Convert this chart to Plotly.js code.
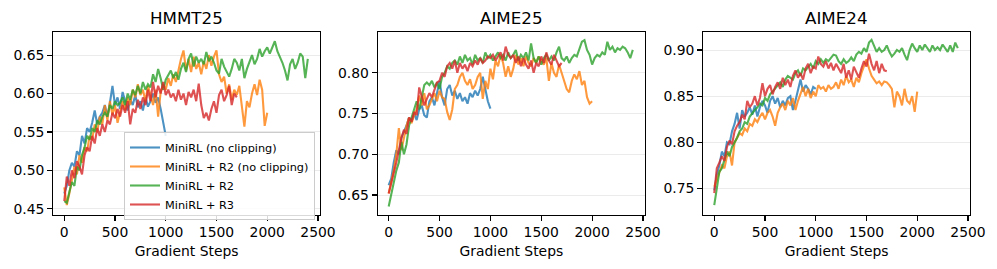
<!DOCTYPE html>
<html>
<head>
<meta charset="utf-8">
<script src="https://cdn.plot.ly/plotly-3.0.1.min.js"></script>
<style>html,body{margin:0;padding:0;background:#fff;}#chart{width:997px;height:269px;}</style>
</head>
<body>
<div id="chart"></div>
<script>
// ---- data ----
const steps = [0,25,50,75,100,125,150,175,200,225,250,275,300,325,350,375,400,425,450,475,500,525,550,575,600,625,650,675,700,725,750,775,800,825,850,875,900,925,950,975,1000,1025,1050,1075,1100,1125,1150,1175,1200,1225,1250,1275,1300,1325,1350,1375,1400,1425,1450,1475,1500,1525,1550,1575,1600,1625,1650,1675,1700,1725,1750,1775,1800,1825,1850,1875,1900,1925,1950,1975,2000,2025,2050,2075,2100,2125,2150,2175,2200,2225,2250,2275,2300,2325,2350,2375,2400];

const seriesNames = ["MiniRL (no clipping)", "MiniRL + R2 (no clipping)", "MiniRL + R2", "MiniRL + R3"];
const benchmarks = ["HMMT25", "AIME25", "AIME24"];
const xTicks = [0, 500, 1000, 1500, 2000, 2500];
const yTicksHMMT25 = [0.45, 0.50, 0.55, 0.60, 0.65];
const yTicksAIME25 = [0.65, 0.70, 0.75, 0.80];
const yTicksAIME24 = [0.75, 0.80, 0.85, 0.90];

// HMMT25
const hmmtNoClip = [0.470,0.480,0.500,0.510, 0.505,0.525,0.520,0.545, 0.535,0.555,0.550,0.562, 0.578,0.560,0.570,0.575, 0.585,0.570,0.588,0.610, 0.585,0.595,0.580,0.602, 0.590,0.578,0.592,0.585, 0.598,0.582,0.590,0.578, 0.595,0.583,0.590,0.600, 0.588,0.595,0.580,0.560, 0.545];
const hmmtR2NoClip = [0.478,0.455,0.470,0.490, 0.505,0.495,0.520,0.510, 0.530,0.525,0.545,0.540, 0.560,0.550,0.570,0.560, 0.585,0.565,0.590,0.572, 0.585,0.562,0.575,0.590, 0.578,0.595,0.585,0.605, 0.595,0.612,0.598,0.605, 0.590,0.610,0.598,0.585, 0.605,0.570,0.602,0.612, 0.605,0.620,0.610,0.625, 0.615,0.632,0.645,0.656, 0.630,0.645,0.628,0.648, 0.632,0.640,0.625,0.642, 0.632,0.650,0.636,0.648, 0.656,0.625,0.615,0.622, 0.600,0.612,0.592,0.605, 0.598,0.610,0.585,0.557, 0.590,0.582,0.600,0.612, 0.598,0.618,0.605,0.558, 0.575];
const hmmtR2 = [0.460,0.458,0.472,0.485, 0.480,0.505,0.500,0.520, 0.530,0.545,0.540,0.555, 0.550,0.565,0.560,0.570, 0.575,0.570,0.585,0.580, 0.590,0.585,0.588,0.595, 0.585,0.600,0.592,0.605, 0.598,0.610,0.600,0.615, 0.605,0.612,0.608,0.625, 0.615,0.632,0.620,0.605, 0.618,0.625,0.630,0.620, 0.628,0.618,0.632,0.640, 0.628,0.645,0.652,0.635, 0.648,0.640,0.645,0.638, 0.654,0.642,0.648,0.640, 0.630,0.626,0.645,0.635, 0.628,0.622,0.632,0.645, 0.640,0.630,0.645,0.620, 0.632,0.642,0.650,0.638, 0.645,0.658,0.648,0.655, 0.660,0.652,0.660,0.668, 0.655,0.648,0.640,0.630, 0.617,0.638,0.645,0.632, 0.640,0.652,0.648,0.620, 0.645];
const hmmtR3 = [0.460,0.492,0.480,0.500, 0.490,0.512,0.505,0.495, 0.520,0.530,0.525,0.545, 0.535,0.555,0.545,0.560, 0.550,0.565,0.560,0.575, 0.568,0.580,0.570,0.585, 0.575,0.590,0.560,0.580, 0.575,0.592,0.580,0.595, 0.585,0.605,0.590,0.615, 0.595,0.610,0.600,0.615, 0.598,0.605,0.595,0.600, 0.590,0.605,0.592,0.600, 0.585,0.602,0.595,0.605, 0.590,0.613,0.585,0.568, 0.575,0.565,0.580,0.590, 0.575,0.598,0.605,0.590, 0.598,0.610,0.585,0.600, 0.595];

// AIME25
const aime25NoClip = [0.662,0.670,0.690,0.705, 0.700,0.720,0.728,0.735, 0.745,0.740,0.750,0.742, 0.755,0.760,0.748,0.745, 0.765,0.770,0.760,0.775, 0.790,0.770,0.760,0.780, 0.785,0.772,0.778,0.768, 0.775,0.765,0.770,0.762, 0.775,0.770,0.778,0.772, 0.780,0.795,0.780,0.765, 0.756];
const aime25R2NoClip = [0.652,0.665,0.680,0.700, 0.732,0.705,0.720,0.735, 0.745,0.738,0.748,0.755, 0.772,0.760,0.775,0.755, 0.760,0.768,0.775,0.765, 0.778,0.770,0.768,0.752, 0.742,0.755,0.780,0.785, 0.795,0.800,0.790,0.785, 0.792,0.780,0.785,0.795, 0.800,0.768,0.790,0.780, 0.805,0.792,0.815,0.808, 0.822,0.812,0.795,0.808, 0.795,0.805,0.822,0.810, 0.818,0.808,0.820,0.812, 0.808,0.818,0.812,0.820, 0.815,0.810,0.818,0.790, 0.812,0.800,0.795,0.810, 0.800,0.790,0.780,0.776, 0.790,0.798,0.792,0.802, 0.785,0.790,0.770,0.762, 0.765];
const aime25R2 = [0.636,0.650,0.668,0.680, 0.690,0.715,0.700,0.712, 0.735,0.745,0.752,0.765, 0.755,0.772,0.785,0.788, 0.785,0.790,0.782,0.788, 0.780,0.795,0.800,0.808, 0.805,0.812,0.815,0.810, 0.820,0.812,0.822,0.815, 0.818,0.810,0.822,0.815, 0.818,0.812,0.825,0.818, 0.822,0.815,0.820,0.825, 0.818,0.822,0.815,0.825, 0.818,0.822,0.828,0.815, 0.822,0.818,0.825,0.815, 0.836,0.818,0.812,0.820, 0.810,0.818,0.822,0.815, 0.820,0.815,0.825,0.832, 0.818,0.815,0.820,0.812, 0.818,0.822,0.820,0.830, 0.838,0.840,0.828,0.822, 0.810,0.818,0.822,0.820, 0.825,0.822,0.838,0.828, 0.832,0.825,0.830,0.828, 0.832,0.830,0.825,0.818, 0.828];
const aime25R3 = [0.652,0.665,0.675,0.690, 0.705,0.720,0.730,0.725, 0.745,0.740,0.752,0.748, 0.782,0.770,0.760,0.768, 0.775,0.770,0.780,0.788, 0.790,0.800,0.795,0.808, 0.812,0.805,0.815,0.800, 0.812,0.805,0.810,0.802, 0.812,0.808,0.815,0.810, 0.818,0.812,0.815,0.820, 0.818,0.822,0.815,0.820, 0.825,0.815,0.832,0.822, 0.818,0.822,0.812,0.820, 0.808,0.818,0.810,0.805, 0.815,0.800,0.812,0.808, 0.820,0.812,0.825,0.815, 0.810,0.822,0.815,0.808, 0.812];

// AIME24
const aime24NoClip = [0.748,0.765,0.775,0.790, 0.785,0.800,0.798,0.812, 0.820,0.832,0.815,0.835, 0.828,0.832,0.838,0.830, 0.840,0.828,0.838,0.845, 0.840,0.832,0.845,0.850, 0.842,0.848,0.838,0.845, 0.840,0.848,0.850,0.835, 0.845,0.858,0.868,0.855, 0.862,0.858,0.852,0.860, 0.858];
const aime24R2NoClip = [0.752,0.760,0.768,0.775, 0.772,0.785,0.790,0.775, 0.800,0.805,0.810,0.808, 0.815,0.812,0.820,0.818, 0.825,0.822,0.828,0.832, 0.825,0.832,0.835,0.828, 0.818,0.832,0.838,0.842, 0.835,0.845,0.840,0.848, 0.835,0.845,0.852,0.860, 0.850,0.858,0.848,0.855, 0.850,0.862,0.858,0.860, 0.855,0.862,0.858,0.860, 0.865,0.858,0.868,0.862, 0.872,0.865,0.868,0.860, 0.870,0.865,0.875,0.882, 0.890,0.880,0.872,0.868, 0.864,0.866,0.862,0.866, 0.865,0.862,0.858,0.838, 0.855,0.850,0.840,0.858, 0.845,0.842,0.850,0.833, 0.855];
const aime24R2 = [0.732,0.750,0.768,0.772, 0.780,0.790,0.785,0.795, 0.800,0.805,0.812,0.815, 0.822,0.820,0.828,0.832, 0.835,0.838,0.842,0.840, 0.848,0.845,0.852,0.855, 0.858,0.862,0.865,0.860, 0.868,0.872,0.870,0.868, 0.875,0.878,0.872,0.880, 0.878,0.882,0.885,0.880, 0.888,0.885,0.890,0.886, 0.890,0.888,0.892,0.895, 0.894,0.888,0.885,0.890, 0.886,0.888,0.892,0.888, 0.895,0.898,0.896,0.902, 0.898,0.908,0.911,0.905, 0.898,0.902,0.898,0.900, 0.905,0.898,0.893,0.896, 0.900,0.898,0.902,0.895, 0.889,0.900,0.907,0.902, 0.898,0.905,0.900,0.906, 0.902,0.898,0.905,0.900, 0.903,0.900,0.906,0.902, 0.898,0.905,0.898,0.908, 0.902];
const aime24R3 = [0.745,0.772,0.778,0.785, 0.780,0.795,0.802,0.798, 0.812,0.818,0.822,0.830, 0.825,0.845,0.838,0.842, 0.850,0.840,0.848,0.864, 0.850,0.858,0.862,0.852, 0.860,0.865,0.858,0.870, 0.862,0.868,0.860,0.872, 0.878,0.870,0.875,0.868, 0.880,0.885,0.875,0.882, 0.880,0.893,0.885,0.882, 0.888,0.880,0.886,0.878, 0.885,0.880,0.875,0.885, 0.870,0.878,0.868,0.882, 0.875,0.870,0.880,0.888, 0.882,0.896,0.885,0.878, 0.888,0.875,0.885,0.878, 0.877];

// ---- styling ----
const colors = ["#1f77b4", "#ff7f0e", "#2ca02c", "#d62728"];
const panels = [
  {name: benchmarks[0], data: [hmmtNoClip, hmmtR2NoClip, hmmtR2, hmmtR3], yTicks: yTicksHMMT25, yRange: [0.4426, 0.680], dom: [53.3, 320]},
  {name: benchmarks[1], data: [aime25NoClip, aime25R2NoClip, aime25R2, aime25R3], yTicks: yTicksAIME25, yRange: [0.626, 0.850], dom: [377.7, 645]},
  {name: benchmarks[2], data: [aime24NoClip, aime24R2NoClip, aime24R2, aime24R3], yTicks: yTicksAIME24, yRange: [0.7218, 0.9195], dom: [703.3, 970]}
];

const W = 997, H = 269;
const px = v => v / W;
const py = v => 1 - v / H;
const FONT = "DejaVu Sans, Liberation Sans, sans-serif";

const traces = [];
const layout = {
  width: W, height: H,
  margin: {l: 0, r: 0, t: 0, b: 0},
  paper_bgcolor: "#ffffff", plot_bgcolor: "#ffffff",
  font: {family: FONT, size: 13.9, color: "#000"},
  showlegend: true,
  legend: {
    x: px(124), y: py(132), xanchor: "left", yanchor: "top",
    bgcolor: "rgba(255,255,255,0.85)", bordercolor: "#cccccc", borderwidth: 1,
    font: {family: FONT, size: 11.3, color: "#000"},
    tracegroupgap: 0
  },
  annotations: []
};

panels.forEach((p, i) => {
  const xa = i === 0 ? "x" : "x" + (i + 1);
  const ya = i === 0 ? "y" : "y" + (i + 1);
  p.data.forEach((vals, k) => {
    traces.push({
      type: "scatter", mode: "lines",
      x: steps.slice(0, vals.length), y: vals,
      xaxis: xa, yaxis: ya,
      name: seriesNames[k], legendgroup: seriesNames[k],
      showlegend: i === 0,
      opacity: 0.8,
      line: {color: colors[k], width: 2.1}
    });
  });
  const xKey = i === 0 ? "xaxis" : "xaxis" + (i + 1);
  const yKey = i === 0 ? "yaxis" : "yaxis" + (i + 1);
  layout[xKey] = {
    domain: [px(p.dom[0]), px(p.dom[1])], anchor: ya,
    range: [-108, 2520], tickvals: xTicks, ticktext: xTicks.map(String),
    showline: true, mirror: true, linecolor: "#000", linewidth: 1.1,
    ticks: "outside", ticklen: 5, tickwidth: 1.1, tickcolor: "#000",
    showgrid: false, zeroline: false,
    tickfont: {family: FONT, size: 13.9, color: "#000"},
    title: {text: "Gradient Steps", font: {family: FONT, size: 13.9, color: "#000"}, standoff: 6}
  };
  layout[yKey] = {
    domain: [py(214.6), py(32)], anchor: xa,
    range: p.yRange, tickvals: p.yTicks, ticktext: p.yTicks.map(v => v.toFixed(2)),
    showline: true, mirror: true, linecolor: "#000", linewidth: 1.1,
    ticks: "outside", ticklen: 5, tickwidth: 1.1, tickcolor: "#000",
    showgrid: true, gridcolor: "#ebebeb", gridwidth: 1, zeroline: false,
    tickfont: {family: FONT, size: 13.9, color: "#000"}
  };
  layout.annotations.push({
    text: p.name, xref: "paper", yref: "paper",
    x: px((p.dom[0] + p.dom[1]) / 2), y: py(17.5),
    xanchor: "center", yanchor: "middle", showarrow: false,
    font: {family: FONT, size: 16.7, color: "#000"}
  });
});

Plotly.newPlot("chart", traces, layout, {displayModeBar: false, staticPlot: true});
</script>
</body>
</html>
